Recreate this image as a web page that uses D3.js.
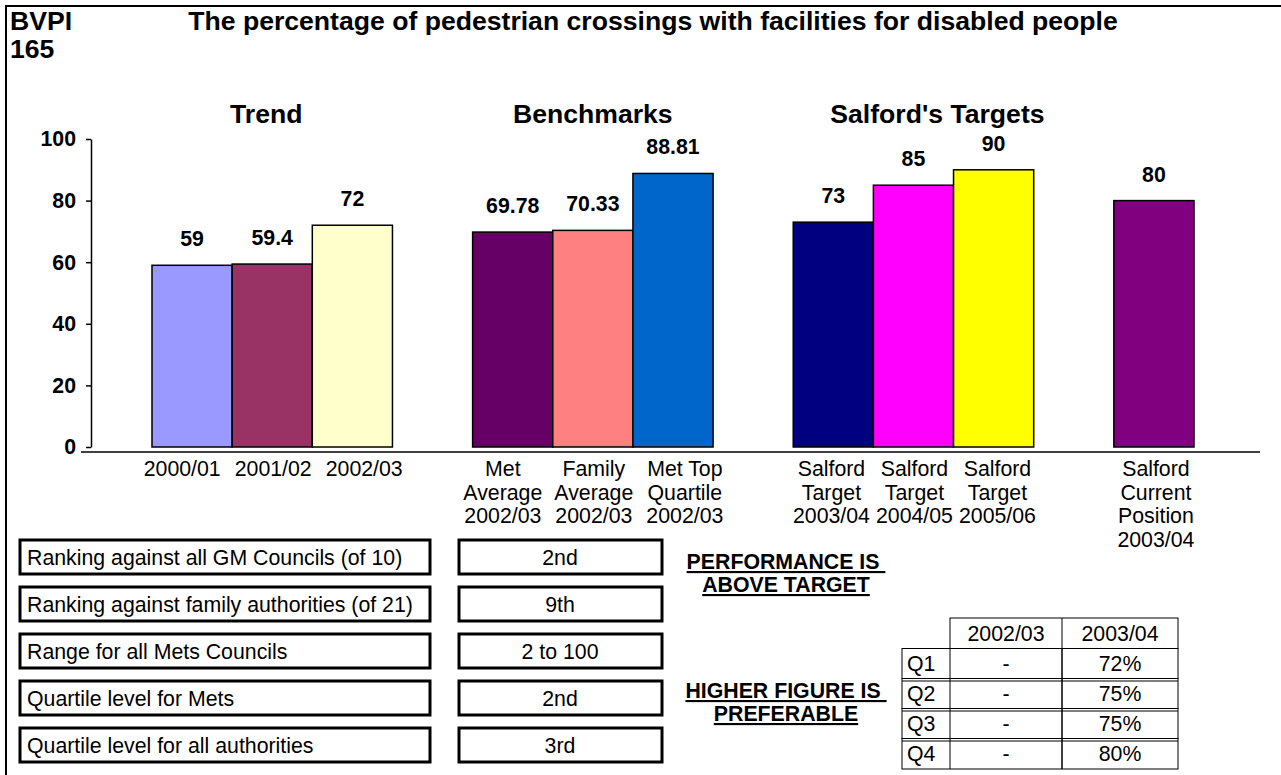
<!DOCTYPE html>
<html>
<head>
<meta charset="utf-8">
<script src="https://cdn.jsdelivr.net/npm/d3@7"></script>
<style>
  body { margin: 0; background: #fff; }
  svg { display: block; }
  text { font-family: "Liberation Sans", Arial, Helvetica, sans-serif; fill: #000; }
</style>
</head>
<body>
<svg id="chart" width="1281" height="775"></svg>
<script>
// ---------------- data ----------------
const categories = [
  "2000/01", "2001/02", "2002/03", "",
  "Met\nAverage\n2002/03", "Family\nAverage\n2002/03", "Met Top\nQuartile\n2002/03", "",
  "Salford\nTarget\n2003/04", "Salford\nTarget\n2004/05", "Salford\nTarget\n2005/06", "",
  "Salford\nCurrent\nPosition\n2003/04"
];
const values = [59, 59.4, 72, null, 69.78, 70.33, 88.81, null, 73, 85, 90, null, 80];
const valueLabels = ["59", "59.4", "72", "", "69.78", "70.33", "88.81", "", "73", "85", "90", "", "80"];
const barColors = ["#9999FF", "#993366", "#FFFFCC", null, "#660066", "#FF8080", "#0066CC", null,
                   "#000080", "#FF00FF", "#FFFF00", null, "#800080"];
const yTicks = [0, 20, 40, 60, 80, 100];
const groupTitles = ["Trend", "Benchmarks", "Salford's Targets"];

const infoLabels = [
  "Ranking against all GM Councils (of 10)",
  "Ranking against family authorities (of 21)",
  "Range for all Mets Councils",
  "Quartile level for Mets",
  "Quartile level for all authorities"
];
const infoValues = ["2nd", "9th", "2 to 100", "2nd", "3rd"];

const quartileHeader = ["2002/03", "2003/04"];
const quartileRows = ["Q1", "Q2", "Q3", "Q4"];
const quartile2002 = ["-", "-", "-", "-"];
const quartile2003 = ["72%", "75%", "75%", "80%"];

const titleCode = ["BVPI", "165"];
const titleText = "The percentage of pedestrian crossings with facilities for disabled people";
const noteTop = ["PERFORMANCE IS ", "ABOVE TARGET"];
const noteBottom = ["HIGHER FIGURE IS ", "PREFERABLE"];

// ---------------- drawing ----------------
const svg = d3.select("#chart");

// frame
svg.append("path")
  .attr("d", "M6,775 V6 H1281")
  .attr("fill", "none").attr("stroke", "#000").attr("stroke-width", 2);

// title block
svg.selectAll(".code").data(titleCode).enter().append("text")
  .attr("x", 10).attr("y", (d, i) => 30 + i * 28)
  .attr("font-size", 26.6).attr("font-weight", "bold").text(d => d);

svg.append("text").attr("x", 653).attr("y", 30)
  .attr("text-anchor", "middle").attr("font-size", 26.6).attr("font-weight", "bold")
  .text(titleText);

// scales
const x = d3.scaleBand().domain(d3.range(categories.length)).range([152, 1194]).paddingInner(0).paddingOuter(0);
const y = d3.scaleLinear().domain([0, 100]).range([447, 139]);
const cx = i => x(i) + x.bandwidth() / 2;

// group titles
const groupCenters = [cx(1) - 6, cx(5), cx(9) + 24];
svg.selectAll(".gt").data(groupTitles).enter().append("text")
  .attr("x", (d, i) => groupCenters[i]).attr("y", 123)
  .attr("text-anchor", "middle").attr("font-size", 26.6).attr("font-weight", "bold")
  .text(d => d);

// y axis
const yAxis = d3.axisLeft(y).tickValues(yTicks).tickSize(5).tickPadding(10).tickSizeOuter(0);
const gy = svg.append("g").attr("transform", "translate(91,0)").call(yAxis);
gy.select(".domain").attr("stroke", "#000").attr("stroke-width", 1.5);
gy.selectAll(".tick line").attr("stroke", "#000").attr("stroke-width", 1.5);
gy.selectAll(".tick text").attr("font-size", 21.3).attr("font-weight", "bold")
  .attr("font-family", "'Liberation Sans', Arial, sans-serif").attr("fill", "#000");

// x axis line
svg.append("line").attr("x1", 81).attr("x2", 1260).attr("y1", 452).attr("y2", 452)
  .attr("stroke", "#000").attr("stroke-width", 1.5);

// bars
const barData = values.map((v, i) => ({ i, v, c: barColors[i], label: valueLabels[i] })).filter(d => d.v !== null);
svg.selectAll(".bar").data(barData).enter().append("rect")
  .attr("x", d => x(d.i)).attr("width", x.bandwidth())
  .attr("y", d => y(d.v)).attr("height", d => y(0) - y(d.v))
  .attr("fill", d => d.c).attr("stroke", "#000").attr("stroke-width", 1.5);

// value labels
svg.selectAll(".vl").data(barData).enter().append("text")
  .attr("x", d => cx(d.i)).attr("y", d => y(d.v) - 19)
  .attr("text-anchor", "middle").attr("font-size", 21.3).attr("font-weight", "bold")
  .text(d => d.label);

// category labels: the chart's label slots are spread a little wider than the bars
// within each group, centred on the group's middle bar
function labelX(i) {
  const groupStart = Math.floor(i / 4) * 4;
  const mid = groupStart + 1;
  const spread = groupStart === 8 ? 83 : (groupStart === 12 ? 0 : 91);
  const base = groupStart === 12 ? cx(i) + 2 : cx(mid) + 1;
  return base + (i - mid) * spread;
}
const catG = svg.selectAll(".cat").data(categories.map((c, i) => ({ c, i })).filter(d => d.c !== ""))
  .enter().append("text")
  .attr("text-anchor", "middle").attr("font-size", 21.3);
catG.each(function (d) {
  const t = d3.select(this);
  d.c.split("\n").forEach((line, k) => {
    t.append("tspan").attr("x", labelX(d.i)).attr("y", 476 + k * 23.6).text(line);
  });
});

// info boxes
const rowY = d3.scaleLinear().domain([0, 4]).range([557, 745]);
infoLabels.forEach((lab, i) => {
  const cy = rowY(i);
  svg.append("rect").attr("x", 20).attr("y", cy - 17).attr("width", 410).attr("height", 34)
    .attr("fill", "#fff").attr("stroke", "#000").attr("stroke-width", 3);
  svg.append("text").attr("x", 27).attr("y", cy + 7.5).attr("font-size", 21.3).text(lab);
  svg.append("rect").attr("x", 459).attr("y", cy - 17).attr("width", 203).attr("height", 34)
    .attr("fill", "#fff").attr("stroke", "#000").attr("stroke-width", 3);
  svg.append("text").attr("x", 560).attr("y", cy + 7.5).attr("text-anchor", "middle")
    .attr("font-size", 21.3).text(infoValues[i]);
});

// notes
function note(lines, y0) {
  lines.forEach((l, k) => {
    svg.append("text").attr("x", 786).attr("y", y0 + k * 23)
      .attr("text-anchor", "middle").attr("font-size", 21.3).attr("font-weight", "bold")
      .style("text-decoration", "underline").style("white-space", "pre").text(l);
  });
}
note(noteTop, 569);
note(noteBottom, 698);

// quartile table
const colX = [902, 950, 1062, 1178];
const rowTop = [618, 648.5, 678.5, 708.5, 738.5, 769];
const tg = svg.append("g");
tg.append("rect").attr("x", colX[1]).attr("y", rowTop[0]).attr("width", colX[3] - colX[1]).attr("height", rowTop[1] - rowTop[0])
  .attr("fill", "#fff").attr("stroke", "#000").attr("stroke-width", 1);
tg.append("line").attr("x1", colX[2]).attr("x2", colX[2]).attr("y1", rowTop[0]).attr("y2", rowTop[5])
  .attr("stroke", "#000").attr("stroke-width", 1);
quartileHeader.forEach((h, j) => {
  tg.append("text").attr("x", (colX[j + 1] + colX[j + 2]) / 2).attr("y", rowTop[0] + 22.5)
    .attr("text-anchor", "middle").attr("font-size", 21.3).text(h);
});
quartileRows.forEach((q, i) => {
  const y0 = rowTop[i + 1], y1 = rowTop[i + 2];
  tg.append("rect").attr("x", colX[0]).attr("y", y0).attr("width", colX[3] - colX[0]).attr("height", y1 - y0)
    .attr("fill", "none").attr("stroke", "#000").attr("stroke-width", 1);
  tg.append("line").attr("x1", colX[1]).attr("x2", colX[1]).attr("y1", y0).attr("y2", y1)
    .attr("stroke", "#000").attr("stroke-width", 1);
  tg.append("line").attr("x1", colX[2]).attr("x2", colX[2]).attr("y1", y0).attr("y2", y1)
    .attr("stroke", "#000").attr("stroke-width", 1);
  if (i > 0) {
    tg.append("line").attr("x1", colX[0]).attr("x2", colX[3]).attr("y1", y0 + 2.5).attr("y2", y0 + 2.5)
      .attr("stroke", "#000").attr("stroke-width", 1);
  }
  const ty = (y0 + y1) / 2 + 7.5;
  tg.append("text").attr("x", colX[0] + 5).attr("y", ty).attr("font-size", 21.3).text(q);
  tg.append("text").attr("x", (colX[1] + colX[2]) / 2).attr("y", ty).attr("text-anchor", "middle").attr("font-size", 21.3).text(quartile2002[i]);
  tg.append("text").attr("x", (colX[2] + colX[3]) / 2).attr("y", ty).attr("text-anchor", "middle").attr("font-size", 21.3).text(quartile2003[i]);
});
</script>
</body>
</html>
